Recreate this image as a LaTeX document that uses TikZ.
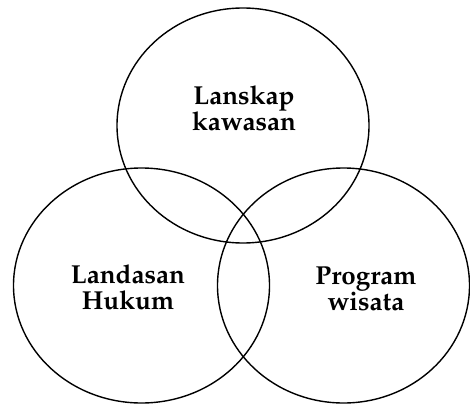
\documentclass[tikz,border=0pt]{standalone}
\usepackage[T1]{fontenc}
\usepackage{mathpazo}
\usepackage{tikz}
\usetikzlibrary{shapes.geometric}

\begin{document}
\begin{tikzpicture}[x=1pt,y=-1pt, every node/.style={align=center},
    venn/.style={draw,ellipse,line width=1.4pt,inner sep=0pt,minimum width=252pt,minimum height=235pt},
    lbl/.style={font=\fontsize{26}{26}\selectfont\bfseries}]
    \useasboundingbox (0,0) rectangle (470,404);
    \node[venn] (kawasan) at (243,125.5) {};
    \node[venn,minimum width=256pt] (hukum) at (141.5,285.5) {};
    \node[venn] (wisata) at (343.5,285.5) {};
    \node[lbl] (tkawasan) at (244,108) {Lanskap\\kawasan};
    \node[lbl] (thukum) at (128,287) {Landasan\\Hukum};
    \node[lbl] (twisata) at (366,289) {Program\\wisata};
  \end{tikzpicture}
\end{document}
